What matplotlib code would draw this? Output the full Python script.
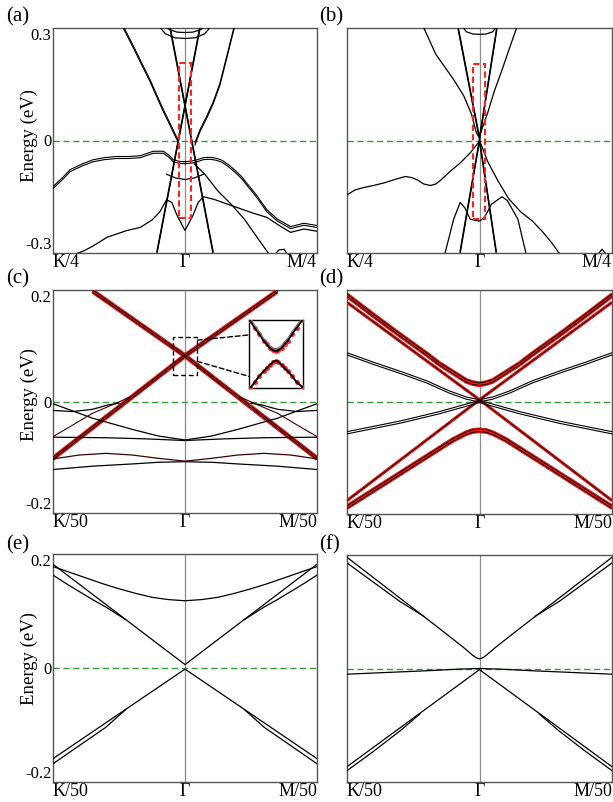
import matplotlib
matplotlib.use('Agg')
import matplotlib.pyplot as plt
import matplotlib.transforms as mtransforms
from matplotlib.patches import Rectangle, ConnectionPatch

plt.rcParams['font.family'] = ['Liberation Serif', 'DejaVu Serif']

# ---------------- data: (k, E) points ----------------
# k runs from -1 (K/n) through 0 (Gamma) to 1 (M/n), E in eV

# panel (a)
a_cone1 = [(-0.114, 0.30), (0.212, -0.30)]
a_cone2 = [(0.114, 0.30), (-0.212, -0.30)]
a_top_u1 = [(-0.17, 0.31), (-0.12, 0.296), (-0.06, 0.289), (0, 0.288), (0.06, 0.289), (0.12, 0.296), (0.17, 0.31)]
a_top_u2 = [(-0.21, 0.31), (-0.15, 0.285), (-0.08, 0.274), (0, 0.272), (0.08, 0.274), (0.15, 0.285), (0.21, 0.31)]
a_side_l = [(-0.48, 0.308), (-0.39, 0.246), (-0.316, 0.193), (-0.265, 0.157), (-0.215, 0.117),
            (-0.164, 0.077), (-0.114, 0.041), (-0.075, 0.012), (-0.05, -0.005)]
a_side_r = [(0.379, 0.308), (0.316, 0.219), (0.265, 0.148), (0.215, 0.099), (0.164, 0.059),
            (0.114, 0.024), (0.089, 0.001), (0.076, -0.012)]
a_val_l = [(-1.0, -0.128), (-0.93, -0.105), (-0.87, -0.083), (-0.78, -0.068), (-0.70, -0.057),
           (-0.61, -0.051), (-0.52, -0.048), (-0.43, -0.048), (-0.34, -0.046), (-0.24, -0.034),
           (-0.164, -0.034), (-0.12, -0.045), (-0.088, -0.057), (-0.04, -0.061), (0, -0.062)]
a_val_r = [(0, -0.062), (0.05, -0.06), (0.09, -0.057), (0.14, -0.051), (0.19, -0.05), (0.24, -0.053),
           (0.28, -0.058), (0.33, -0.07), (0.38, -0.085), (0.43, -0.102), (0.47, -0.12), (0.51, -0.137),
           (0.55, -0.155), (0.62, -0.19), (0.7, -0.215), (0.8, -0.235), (0.9, -0.226), (1.0, -0.232)]
a_low = [(-0.85, -0.305), (-0.77, -0.295), (-0.70, -0.282), (-0.59, -0.258), (-0.44, -0.24),
         (-0.34, -0.232), (-0.25, -0.212), (-0.19, -0.19), (-0.14, -0.158), (-0.10, -0.165),
         (-0.06, -0.2), (0, -0.24), (0.06, -0.2), (0.10, -0.165), (0.14, -0.15), (0.22, -0.157),
         (0.34, -0.172), (0.51, -0.193), (0.62, -0.205), (0.72, -0.228), (0.8, -0.245),
         (0.9, -0.236), (1.0, -0.242)]
a_disp_r = [(0.07, -0.062), (0.15, -0.09), (0.25, -0.135), (0.35, -0.17), (0.45, -0.21),
            (0.55, -0.26), (0.64, -0.305)]
a_mid = [(-0.14, -0.09), (-0.07, -0.1), (0, -0.104), (0.07, -0.1), (0.14, -0.09)]
a_bump = [(0.68, -0.305), (0.71, -0.292), (0.75, -0.29), (0.78, -0.305)]
a_box = (-0.045, 0.045, -0.207, 0.207)

# panel (b)
b_cone_up = [(-0.16, 0.30), (0, 0.008), (0.13, 0.30)]
b_top_u = [(-0.14, 0.31), (-0.1, 0.29), (-0.05, 0.284), (0, 0.283), (0.05, 0.284), (0.1, 0.29), (0.14, 0.31)]
b_up_l = [(-0.42, 0.30), (-0.33, 0.23), (-0.2, 0.165), (-0.12, 0.12), (-0.06, 0.07), (-0.025, 0.022), (0, 0.006)]
b_up_r = [(0, 0.012), (0.063, 0.075), (0.11, 0.13), (0.165, 0.183), (0.22, 0.24), (0.28, 0.30)]
b_val_l = [(-1.0, -0.145), (-0.94, -0.132), (-0.87, -0.125), (-0.80, -0.12), (-0.72, -0.113),
           (-0.64, -0.104), (-0.56, -0.096), (-0.51, -0.099), (-0.47, -0.105), (-0.42, -0.116),
           (-0.37, -0.12), (-0.33, -0.116), (-0.30, -0.108), (-0.22, -0.082), (-0.146, -0.06),
           (-0.07, -0.033), (0, -0.002)]
b_val_r = [(0, 0.0), (0.063, -0.057), (0.14, -0.108), (0.22, -0.155), (0.31, -0.19), (0.40, -0.215),
           (0.48, -0.245), (0.55, -0.275), (0.6, -0.30)]
b_low = [(-0.26, -0.30), (-0.195, -0.21), (-0.146, -0.165), (-0.11, -0.18), (-0.07, -0.21),
         (-0.03, -0.213), (0, -0.215), (0.038, -0.205), (0.09, -0.17), (0.17, -0.15), (0.21, -0.16),
         (0.29, -0.21), (0.35, -0.30)]
b_cone_dn = [(-0.146, -0.30), (0, -0.002), (0.126, -0.30)]
b_bump = [(0.89, -0.305), (0.925, -0.29), (0.96, -0.305)]
b_box = (-0.05, 0.04, -0.208, 0.205)

# panel (c)
c_red_a = [(-0.70, 0.2), (0, 0.084), (1.0, -0.10)]
c_red_b = [(-1.0, -0.10), (0, 0.084), (0.70, 0.2)]
c_curve_l = [(-1.0, -0.063), (-0.87, -0.045), (-0.7, -0.021), (-0.52, -0.003), (-0.42, 0.008)]
c_curve_r = [(1.0, -0.063), (0.87, -0.045), (0.7, -0.021), (0.52, -0.003), (0.42, 0.008)]
c_blk_l = [(-1.0, -0.016), (-0.85, -0.018), (-0.7, -0.014), (-0.58, -0.006), (-0.5, -0.003)]
c_blk_r = [(1.0, -0.016), (0.85, -0.018), (0.7, -0.014), (0.58, -0.006), (0.5, -0.003)]
c_v = [(-1, -0.004), (-0.7, -0.03), (-0.4, -0.05), (-0.2, -0.062), (0, -0.069),
       (0.2, -0.062), (0.4, -0.05), (0.7, -0.03), (1, -0.004)]
c_flat1 = [(-1, -0.064), (-0.6, -0.065), (-0.3, -0.067), (0, -0.07), (0.3, -0.067), (0.6, -0.065), (1, -0.064)]
c_flat2 = [(-1, -0.103), (-0.8, -0.096), (-0.6, -0.093), (-0.4, -0.096), (-0.2, -0.102), (0, -0.107),
           (0.2, -0.102), (0.4, -0.096), (0.6, -0.093), (0.8, -0.096), (1, -0.103)]
c_flat3 = [(-1, -0.122), (-0.7, -0.116), (-0.4, -0.112), (-0.2, -0.109), (0, -0.108),
           (0.2, -0.109), (0.4, -0.112), (0.7, -0.116), (1, -0.122)]
c_zoom = (-0.088, 0.093, 0.048, 0.116)
inset_up = [(-0.085, 0.115), (-0.07, 0.108), (-0.055, 0.102), (-0.04, 0.095), (-0.03, 0.092),
            (-0.02, 0.088), (-0.008, 0.0855), (0.0, 0.085), (0.008, 0.0855), (0.02, 0.088),
            (0.03, 0.092), (0.04, 0.095), (0.055, 0.102), (0.07, 0.108), (0.09, 0.116)]
inset_dn = [(-0.085, 0.048), (-0.07, 0.054), (-0.055, 0.06), (-0.04, 0.065), (-0.03, 0.068),
            (-0.02, 0.071), (-0.008, 0.0745), (0, 0.0752), (0.008, 0.0745), (0.02, 0.071),
            (0.03, 0.068), (0.04, 0.065), (0.055, 0.06), (0.07, 0.054), (0.09, 0.049)]

# panel (d)
d_x1 = [(-1, 0.178), (0, 0.004), (1, -0.176)]
d_x2 = [(-1, -0.176), (0, 0.004), (1, 0.178)]
d_up = [(-1, 0.193), (-0.8, 0.157), (-0.6, 0.122), (-0.4, 0.088), (-0.3, 0.07), (-0.2, 0.055), (-0.1, 0.04),
        (-0.05, 0.036), (0, 0.034), (0.05, 0.036), (0.1, 0.04), (0.2, 0.055), (0.3, 0.07), (0.4, 0.088),
        (0.6, 0.122), (0.8, 0.157), (1, 0.193)]
d_dn = [(-1, -0.19), (-0.8, -0.16), (-0.6, -0.13), (-0.4, -0.1), (-0.3, -0.085), (-0.2, -0.07), (-0.1, -0.058),
        (-0.05, -0.054), (0, -0.053), (0.05, -0.054), (0.1, -0.058), (0.2, -0.07), (0.3, -0.085), (0.4, -0.1),
        (0.6, -0.13), (0.8, -0.16), (1, -0.19)]
d_bv = [(-1, 0.088), (-0.8, 0.071), (-0.6, 0.055), (-0.4, 0.038), (-0.23, 0.02), (-0.1, 0.009), (0, 0.004),
        (0.1, 0.009), (0.23, 0.02), (0.4, 0.038), (0.6, 0.055), (0.8, 0.071), (1, 0.088)]
d_bn = [(-1, -0.053), (-0.6, -0.034), (-0.3, -0.017), (0, 0.003), (0.3, -0.017), (0.6, -0.034), (1, -0.053)]

# panel (e)
e_par = [(-1, 0.178), (-0.875, 0.168), (-0.75, 0.158), (-0.625, 0.148), (-0.5, 0.139), (-0.375, 0.131),
         (-0.25, 0.124), (-0.125, 0.12), (0, 0.118), (0.125, 0.12), (0.25, 0.124), (0.375, 0.131),
         (0.5, 0.139), (0.625, 0.148), (0.75, 0.158), (0.875, 0.168), (1, 0.178)]
e_v1 = [(-1, 0.182), (0, 0.006), (1, 0.182)]
e_v2_l = [(-1, 0.163), (-0.9, 0.148), (-0.8, 0.134), (-0.7, 0.12), (-0.6, 0.107), (-0.45, 0.085)]
e_v2_r = [(1, 0.163), (0.9, 0.148), (0.8, 0.134), (0.7, 0.12), (0.6, 0.107), (0.45, 0.085)]
e_n1 = [(-1, -0.159), (0, -0.002), (1, -0.159)]
e_n2_l = [(-1, -0.168), (-0.9, -0.152), (-0.8, -0.136), (-0.7, -0.12), (-0.6, -0.104), (-0.45, -0.073)]
e_n2_r = [(1, -0.168), (0.9, -0.152), (0.8, -0.136), (0.7, -0.12), (0.6, -0.104), (0.45, -0.073)]

# panel (f)
f_up1 = [(-1, 0.196), (-0.6, 0.124), (-0.3, 0.07), (-0.18, 0.048), (-0.12, 0.037), (-0.08, 0.029),
         (-0.05, 0.023), (-0.025, 0.019), (0, 0.017), (0.025, 0.019), (0.05, 0.023), (0.08, 0.029),
         (0.12, 0.037), (0.18, 0.048), (0.3, 0.07), (0.6, 0.124), (1, 0.196)]
f_up2_l = [(-1, 0.186), (-0.9, 0.169), (-0.8, 0.152), (-0.7, 0.135), (-0.6, 0.118), (-0.42, 0.092)]
f_up2_r = [(1, 0.186), (0.9, 0.169), (0.8, 0.152), (0.7, 0.135), (0.6, 0.118), (0.42, 0.092)]
f_flat = [(-1, -0.01), (-0.7, -0.007), (-0.4, -0.004), (-0.15, -0.001), (0, 0.0),
          (0.15, -0.001), (0.4, -0.004), (0.7, -0.007), (1, -0.01)]
f_dn1 = [(-1, -0.173), (0, -0.002), (1, -0.173)]
f_dn2_l = [(-1, -0.18), (-0.9, -0.163), (-0.8, -0.146), (-0.7, -0.128), (-0.6, -0.11), (-0.45, -0.08)]
f_dn2_r = [(1, -0.18), (0.9, -0.163), (0.8, -0.146), (0.7, -0.128), (0.6, -0.11), (0.45, -0.08)]

xlab4 = ['K/4', 'Γ', 'M/4']
xlab50 = ['K/50', 'Γ', 'M/50']

# ---------------- figure ----------------
W, H = 613, 802
fig = plt.figure(figsize=(W / 100, H / 100), dpi=100)


def add_ax(l, t, r, b):
    return fig.add_axes([l / W, 1 - b / H, (r - l) / W, (b - t) / H])


def draw(ax, pts, lw=0.9, color='k', double=0.0, red=False):
    k = [p[0] for p in pts]
    e = [p[1] for p in pts]
    shifts = [0.0] if not double else [0.0, double]
    for s in shifts:
        tr = mtransforms.offset_copy(ax.transData, fig=fig, x=0, y=s, units='dots')
        if red:
            ax.plot(k, e, color='#f01818', lw=2.3, transform=tr, zorder=3, solid_capstyle='butt')
        ax.plot(k, e, color=color, lw=lw, transform=tr, zorder=4)


def setup(ax, lim, xlabels, ylab=True, label_y=0.53):
    ax.set_xlim(-1, 1)
    ax.set_ylim(-lim, lim)
    ax.axvline(0, color='#8c8c8c', lw=0.9, zorder=1)
    ax.axhline(0, color='#3a9a3a', lw=1.0, ls=(0, (4.5, 2.6)), zorder=2)
    ax.set_xticks([-1, 0, 1])
    ax.set_xticklabels(xlabels, fontsize=13)
    xl = ax.get_xticklabels()
    xl[0].set_ha('left')
    xl[2].set_ha('right')
    ax.set_yticks([-lim, 0, lim])
    if ylab:
        ax.set_yticklabels([f'-{lim:g}', '0', f'{lim:g}'], fontsize=12)
        yl = ax.get_yticklabels()
        yl[0].set_va('bottom')
        yl[2].set_va('top')
        ax.set_ylabel('Energy (eV)', fontsize=13.5)
        ax.yaxis.set_label_coords(-0.055, label_y)
    else:
        ax.set_yticklabels([])
    ax.tick_params(length=0, pad=1)
    for sp in ax.spines.values():
        sp.set_color('#555555')
        sp.set_linewidth(1.0)


def red_box(ax, box):
    k0, k1, e0, e1 = box
    ax.add_patch(Rectangle((k0, e0), k1 - k0, e1 - e0, fill=False, ec='#ff2020',
                           lw=1.5, ls=(0, (3, 1.6)), zorder=6))


# (a)
ax = add_ax(53, 28, 317, 253)
setup(ax, 0.3, xlab4, label_y=0.52)
for pts in (a_cone1, a_cone2):
    draw(ax, pts, lw=1.0, double=1.8)
for pts in (a_top_u1, a_top_u2, a_mid, a_bump, a_disp_r):
    draw(ax, pts, lw=0.9)
for pts in (a_side_l, a_side_r, a_val_l, a_val_r):
    draw(ax, pts, lw=0.8, double=2.0)
draw(ax, a_low, lw=0.9)
red_box(ax, a_box)

# (b)
ax = add_ax(347, 28, 612, 253)
setup(ax, 0.3, xlab4, ylab=False)
draw(ax, b_cone_up, lw=1.0, double=-2.0)
draw(ax, b_cone_dn, lw=1.0, double=2.0)
for pts in (b_top_u, b_up_l, b_up_r, b_val_l, b_val_r, b_low, b_bump):
    draw(ax, pts, lw=0.9)
red_box(ax, b_box)

# (c)
ax = add_ax(53, 290, 317, 513)
setup(ax, 0.2, xlab50, label_y=0.53)
for pts in (c_v, c_flat1, c_flat3, c_blk_l, c_blk_r):
    draw(ax, pts, lw=0.9)
draw(ax, c_flat2, lw=0.9, color='#3a0000')
for pts in (c_curve_l, c_curve_r):
    draw(ax, pts, lw=0.8, color='#400000')
for pts in (c_red_a, c_red_b):
    draw(ax, pts, lw=0.65, double=-2.2, red=True)
k0, k1, e0, e1 = c_zoom
ax.add_patch(Rectangle((k0, e0), k1 - k0, e1 - e0, fill=False, ec='k', lw=1.0,
                       ls=(0, (3.5, 2)), zorder=6))
axin = ax.inset_axes([0.744, 0.56, 0.2045, 0.306])
axin.set_xlim(k0, k1)
axin.set_ylim(e0, e1)
axin.set_xticks([])
axin.set_yticks([])
for sp in axin.spines.values():
    sp.set_linewidth(1.0)
for pts in (inset_up, inset_dn):
    kk = [p[0] for p in pts]
    ee = [p[1] for p in pts]
    axin.plot(kk, ee, 'o', color='#ff2020', ms=3.5, mew=0, zorder=3)
    axin.plot(kk, ee, color='k', lw=1.4, zorder=4)
tr = mtransforms.offset_copy(axin.transData, fig=fig, x=0, y=2.5, units='dots')
axin.plot([p[0] for p in inset_up], [p[1] for p in inset_up], color='#777777', lw=0.8,
          transform=tr, zorder=4)
for ya, yb in ((e1 - 0.006, 0.78), (e0 + 0.024, 0.17)):
    con = ConnectionPatch(xyA=(k1, ya), coordsA=ax.transData, xyB=(0, yb), coordsB=axin.transAxes,
                          color='k', lw=1.0, ls=(0, (3.5, 2)))
    fig.add_artist(con)

# (d)
ax = add_ax(347, 290, 612, 514)
setup(ax, 0.2, xlab50, ylab=False)
for pts in (d_bv, d_bn):
    draw(ax, pts, lw=0.8, double=-2.2)
draw(ax, d_up, lw=0.65, double=-2.6, red=True)
draw(ax, d_dn, lw=0.65, double=2.6, red=True)
for pts in (d_x1, d_x2):
    draw(ax, pts, lw=0.65, red=True)

# (e)
ax = add_ax(53, 554, 317, 782)
setup(ax, 0.2, xlab50, label_y=0.54)
for pts in (e_par, e_v1, e_v2_l, e_v2_r, e_n1, e_n2_l, e_n2_r):
    draw(ax, pts, lw=0.9)

# (f)
ax = add_ax(347, 555, 612, 782)
setup(ax, 0.2, xlab50, ylab=False)
for pts in (f_up1, f_up2_l, f_up2_r, f_flat, f_dn1, f_dn2_l, f_dn2_r):
    draw(ax, pts, lw=0.9)

# panel letters
for lab, x, y in (('(a)', 6, 17), ('(b)', 319, 17), ('(c)', 6, 279),
                  ('(d)', 319, 279), ('(e)', 6, 545), ('(f)', 319, 545)):
    fig.text(x / W, 1 - y / H, lab, fontsize=15, ha='left', va='center')

fig.savefig('out.png', dpi=100)
